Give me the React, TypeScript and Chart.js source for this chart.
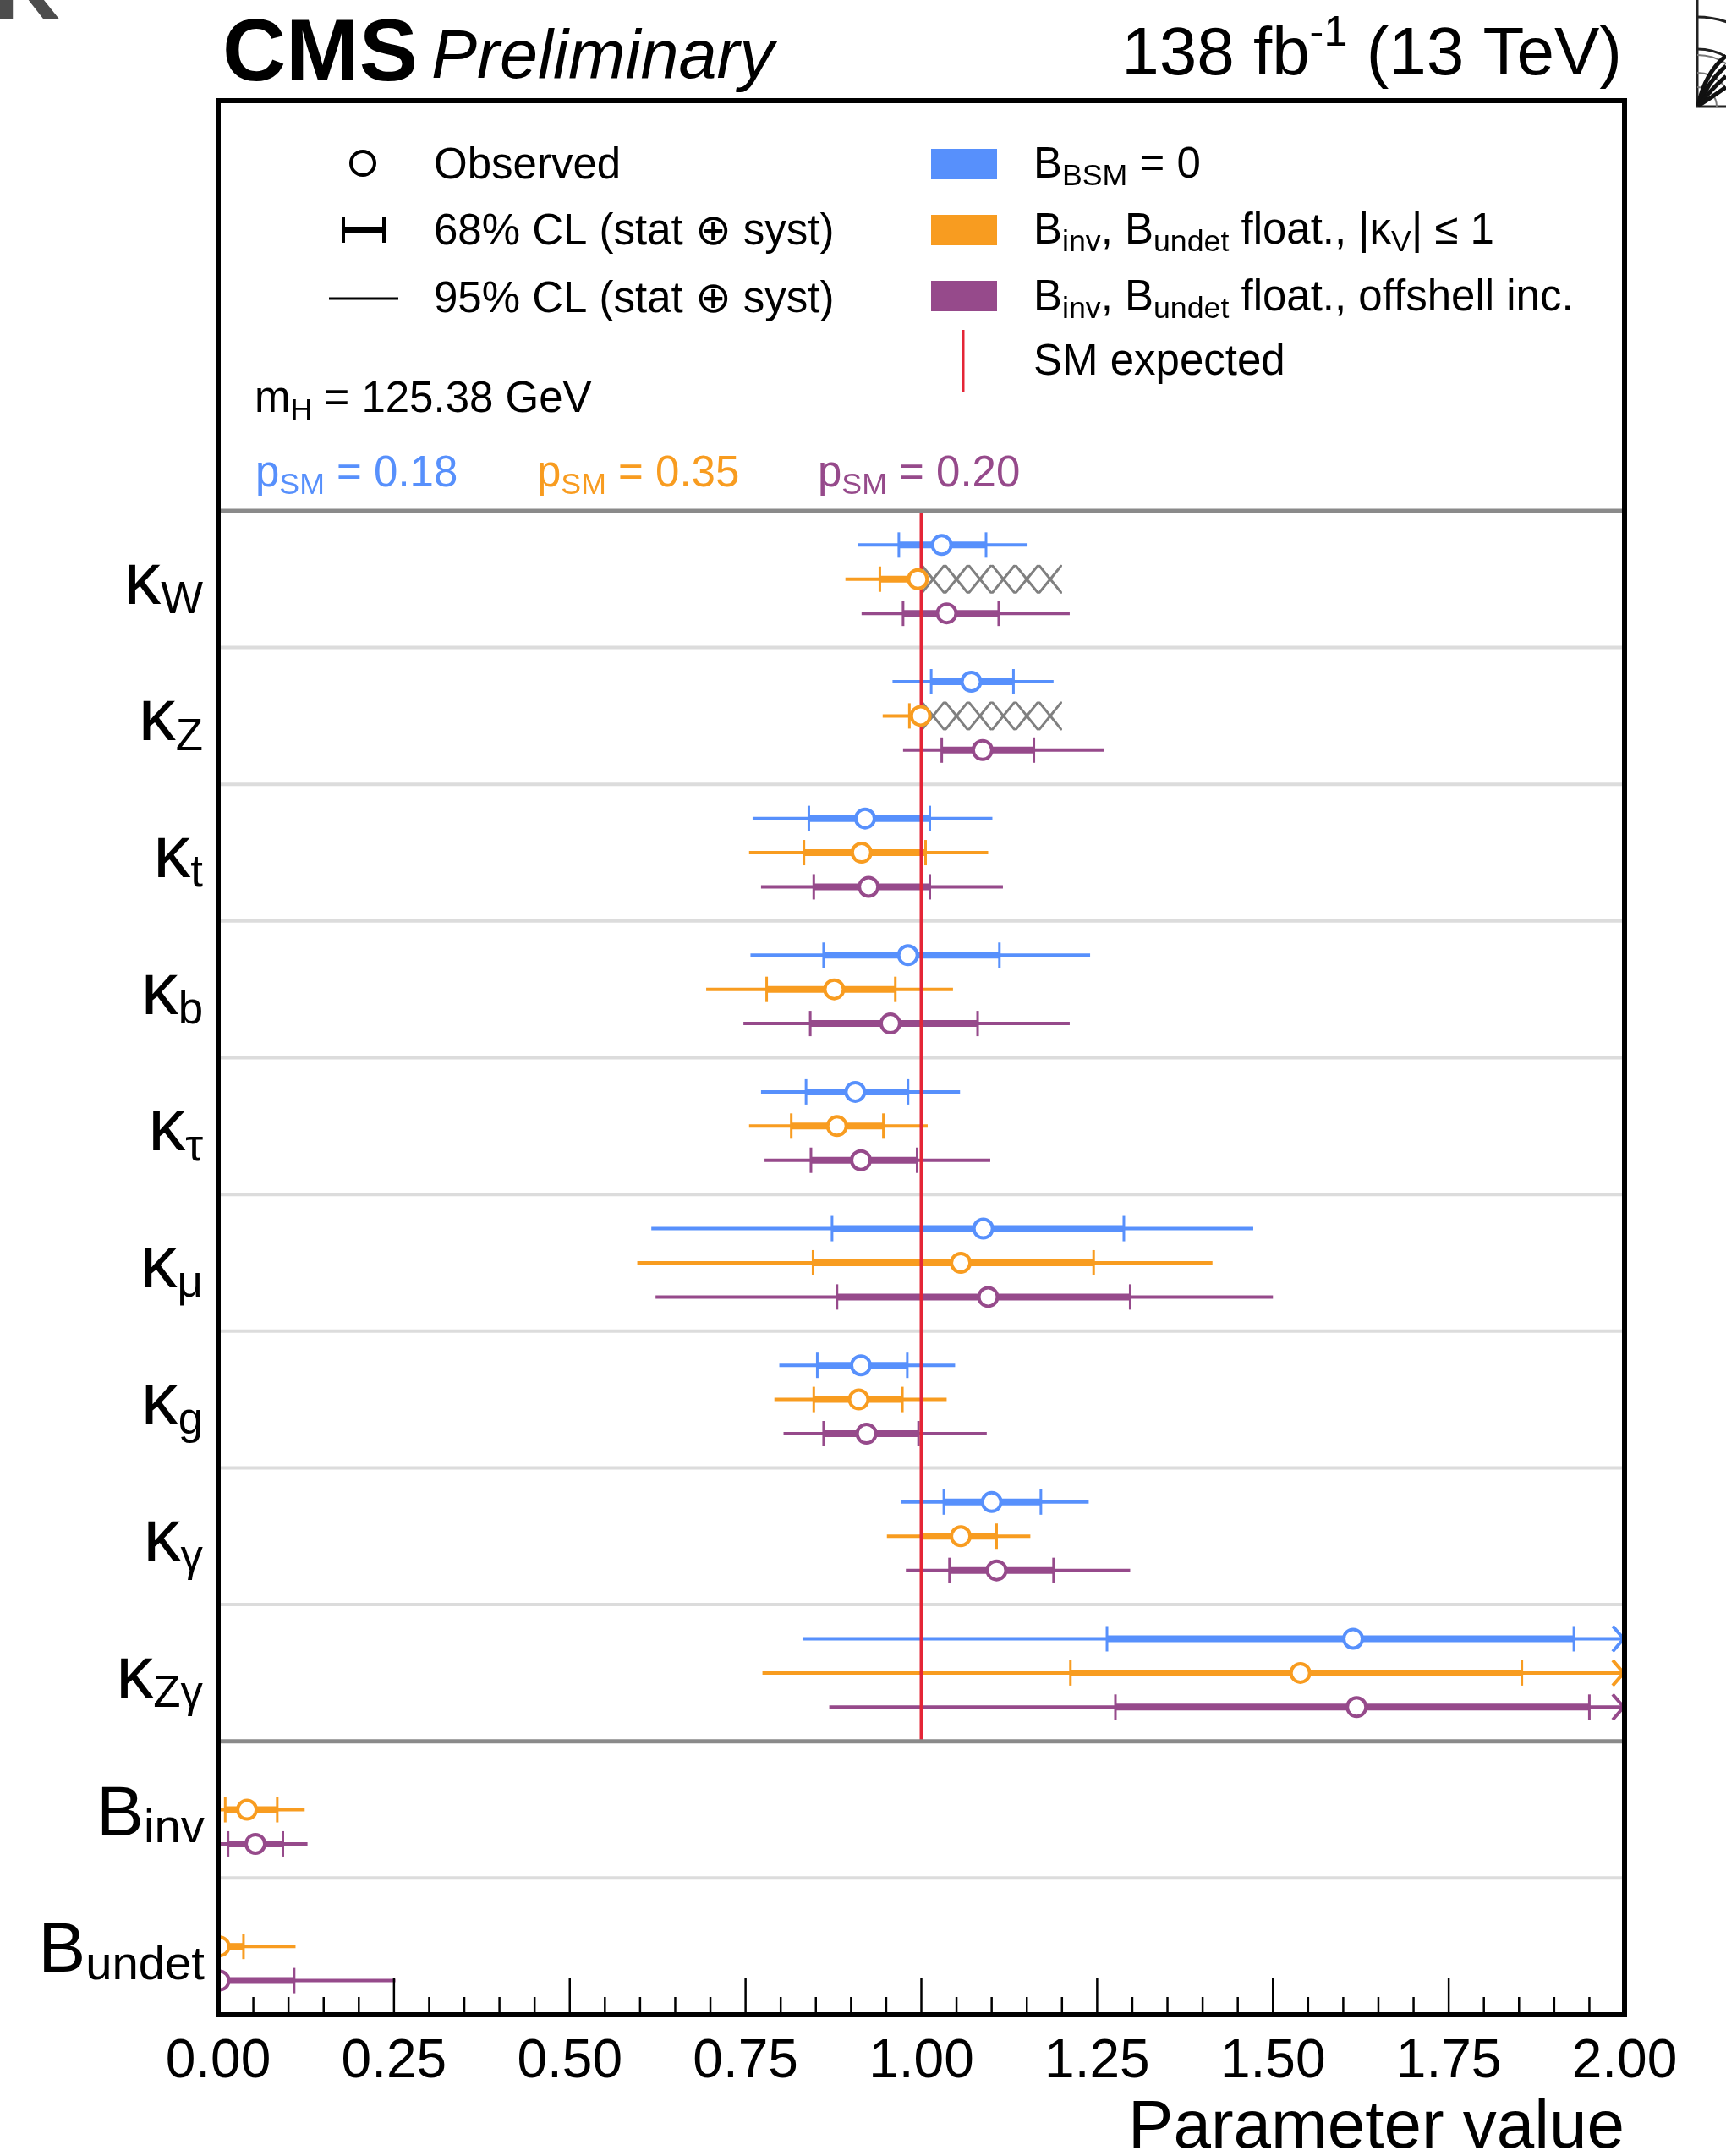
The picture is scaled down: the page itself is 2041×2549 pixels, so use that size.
import React, { useEffect, useRef } from 'react';
import { Chart, registerables } from 'chart.js';

Chart.register(...registerables);

const FONT = '"Liberation Sans", "DejaVu Sans", Arial, Helvetica, sans-serif';

// ---------------- data ----------------
// Parameters, top to bottom
const PARAM_SYMBOL = ['κ', 'κ', 'κ', 'κ', 'κ', 'κ', 'κ', 'κ', 'κ', 'B', 'B'];
const PARAM_SUB = ['W', 'Z', 't', 'b', 'τ', 'μ', 'g', 'γ', 'Zγ', 'inv', 'undet'];
const KAPPA_COUNT = 9;

const X_MIN = 0;
const X_MAX = 2;
const X_MAJOR_STEP = 0.25;
const X_MINOR_PER_MAJOR = 5;
const SM_EXPECTED = 1.0;

// Scenario 1: B_BSM = 0  (null = not fitted). Values above X_MAX extend beyond the axis (arrow)
const BSM0_OBS = [1.029, 1.071, 0.920, 0.981, 0.906, 1.088, 0.914, 1.100, 1.614, null, null];
const BSM0_LO68 = [0.968, 1.014, 0.840, 0.861, 0.836, 0.873, 0.852, 1.032, 1.264, null, null];
const BSM0_HI68 = [1.092, 1.131, 1.012, 1.111, 0.981, 1.288, 0.980, 1.170, 1.928, null, null];
const BSM0_LO95 = [0.910, 0.959, 0.760, 0.757, 0.772, 0.616, 0.798, 0.971, 0.831, null, null];
const BSM0_HI95 = [1.151, 1.188, 1.101, 1.240, 1.055, 1.472, 1.048, 1.238, 2.2, null, null];

// Scenario 2: B_inv, B_undet floating, |kV| <= 1
const KV1_OBS = [0.995, 0.999, 0.915, 0.876, 0.880, 1.056, 0.911, 1.056, 1.539, 0.041, 0.002];
const KV1_LO68 = [0.941, 0.983, 0.833, 0.780, 0.815, 0.846, 0.847, 1.001, 1.212, 0.010, 0.000];
const KV1_HI68 = [1.000, 1.000, 1.006, 0.963, 0.946, 1.245, 0.973, 1.107, 1.854, 0.084, 0.036];
const KV1_LO95 = [0.892, 0.945, 0.755, 0.694, 0.755, 0.596, 0.791, 0.951, 0.774, 0.000, 0.000];
const KV1_HI95 = [1.000, 1.000, 1.095, 1.045, 1.009, 1.414, 1.036, 1.155, 2.2, 0.123, 0.110];

// Scenario 3: B_inv, B_undet floating, offshell included
const OFF_OBS = [1.036, 1.087, 0.925, 0.956, 0.914, 1.095, 0.922, 1.107, 1.619, 0.053, 0.002];
const OFF_LO68 = [0.974, 1.029, 0.847, 0.842, 0.843, 0.880, 0.861, 1.040, 1.276, 0.014, 0.000];
const OFF_HI68 = [1.110, 1.160, 1.012, 1.080, 0.994, 1.297, 0.996, 1.188, 1.950, 0.092, 0.108];
const OFF_LO95 = [0.915, 0.974, 0.772, 0.747, 0.777, 0.622, 0.804, 0.978, 0.869, 0.000, 0.000];
const OFF_HI95 = [1.211, 1.260, 1.116, 1.211, 1.098, 1.500, 1.093, 1.297, 2.2, 0.127, 0.252];

// Excluded region (|kV| <= 1 constraint) shown hatched for scenario 2
const HATCH_ROWS = [0, 1];
const HATCH_RANGE = [1.0, 1.2];

const P_SM = ['0.18', '0.35', '0.20'];

const BLUE = '#5790fc';
const ORANGE = '#f89c20';
const PURPLE = '#964a8b';
const RED = '#e42536';

const SCENARIOS = [
  { color: BLUE, obs: BSM0_OBS, lo68: BSM0_LO68, hi68: BSM0_HI68, lo95: BSM0_LO95, hi95: BSM0_HI95 },
  { color: ORANGE, obs: KV1_OBS, lo68: KV1_LO68, hi68: KV1_HI68, lo95: KV1_LO95, hi95: KV1_HI95 },
  { color: PURPLE, obs: OFF_OBS, lo68: OFF_LO68, hi68: OFF_HI68, lo95: OFF_LO95, hi95: OFF_HI95 },
];
const ROW_OFFSETS = [-0.25, 0, 0.25];

// ---------------- helpers ----------------
type Part = { t: string; k?: 'sub' | 'sup'; style?: string };

function fontFor(p: Part, size: number, subScale: number, supScale: number) {
  const s = p.k === 'sub' ? size * subScale : p.k === 'sup' ? size * supScale : size;
  return `${p.style ? p.style + ' ' : ''}${s}px ${FONT}`;
}

function drawParts(
  ctx: CanvasRenderingContext2D,
  parts: Part[],
  x: number,
  y: number,
  size: number,
  color: string,
  align: 'left' | 'right' = 'left',
  subScale = 0.7,
  subDy = 0.17,
  supScale = 0.63,
  supDy = 0.42,
) {
  const widths = parts.map((p) => {
    ctx.font = fontFor(p, size, subScale, supScale);
    return ctx.measureText(p.t).width;
  });
  const total = widths.reduce((a, b) => a + b, 0);
  let cx = align === 'right' ? x - total : x;
  ctx.fillStyle = color;
  ctx.textAlign = 'left';
  ctx.textBaseline = 'alphabetic';
  parts.forEach((p, i) => {
    ctx.font = fontFor(p, size, subScale, supScale);
    const dy = p.k === 'sub' ? subDy * size : p.k === 'sup' ? -supDy * size : 0;
    ctx.fillText(p.t, cx, y + dy);
    cx += widths[i];
  });
}

function hline(ctx: CanvasRenderingContext2D, x0: number, x1: number, y: number) {
  ctx.beginPath();
  ctx.moveTo(x0, y);
  ctx.lineTo(x1, y);
  ctx.stroke();
}
function vline(ctx: CanvasRenderingContext2D, x: number, y0: number, y1: number) {
  ctx.beginPath();
  ctx.moveTo(x, y0);
  ctx.lineTo(x, y1);
  ctx.stroke();
}

const cmsPlugin = {
  id: 'cmsSummary',
  beforeDraw(chart: any) {
    const ctx = chart.ctx as CanvasRenderingContext2D;
    ctx.save();
    ctx.fillStyle = '#fff';
    ctx.fillRect(0, 0, chart.width, chart.height);
    ctx.restore();
  },
  beforeDatasetsDraw(chart: any) {
    const ctx = chart.ctx as CanvasRenderingContext2D;
    const ca = chart.chartArea;
    const xs = chart.scales.x;
    const ys = chart.scales.y;
    const xp = (v: number) => xs.getPixelForValue(Math.max(X_MIN, Math.min(X_MAX, v)));
    ctx.save();
    ctx.lineCap = 'butt';

    // light row separators
    ctx.strokeStyle = '#dcdcdc';
    ctx.lineWidth = 4;
    for (let b = 1; b < PARAM_SUB.length; b++) {
      if (b === KAPPA_COUNT) continue;
      hline(ctx, ca.left, ca.right, ys.getPixelForValue(b));
    }

    // hatched excluded region
    HATCH_ROWS.forEach((row) => {
      const yc = ys.getPixelForValue(row + 0.5 + ROW_OFFSETS[1]);
      const x0 = xs.getPixelForValue(HATCH_RANGE[0]);
      const x1 = xs.getPixelForValue(HATCH_RANGE[1]);
      const top = yc - 17;
      const bot = yc + 17;
      const n = 6;
      const w = (x1 - x0) / n;
      ctx.save();
      ctx.beginPath();
      ctx.rect(x0, top, x1 - x0, bot - top);
      ctx.clip();
      ctx.strokeStyle = '#808080';
      ctx.lineWidth = 3;
      for (let k = -1; k <= n; k++) {
        ctx.beginPath();
        ctx.moveTo(x0 + k * w, top);
        ctx.lineTo(x0 + (k + 1) * w, bot);
        ctx.moveTo(x0 + (k + 1) * w, top);
        ctx.lineTo(x0 + k * w, bot);
        ctx.stroke();
      }
      ctx.restore();
    });

    // error bars
    SCENARIOS.forEach((s, si) => {
      ctx.strokeStyle = s.color;
      s.obs.forEach((obs, i) => {
        if (obs == null) return;
        const yc = ys.getPixelForValue(i + 0.5 + ROW_OFFSETS[si]);
        const lo95 = s.lo95[i] as number;
        const hi95 = s.hi95[i] as number;
        const lo68 = s.lo68[i] as number;
        const hi68 = s.hi68[i] as number;
        // 95% thin line
        ctx.lineWidth = 4;
        hline(ctx, xp(lo95), xp(hi95), yc);
        if (hi95 > X_MAX) {
          const r = ca.right - 1;
          ctx.beginPath();
          ctx.moveTo(r - 13, yc - 15);
          ctx.lineTo(r, yc);
          ctx.lineTo(r - 13, yc + 15);
          ctx.stroke();
        }
        // 68% thick bar
        ctx.lineWidth = 8;
        hline(ctx, xp(lo68), xp(hi68), yc);
        // end ticks of 68%
        ctx.lineWidth = 3;
        if (lo68 !== lo95) vline(ctx, xp(lo68), yc - 15, yc + 15);
        if (hi68 !== hi95 && hi68 <= X_MAX) vline(ctx, xp(hi68), yc - 15, yc + 15);
      });
    });

    // SM expected line
    ctx.strokeStyle = RED;
    ctx.lineWidth = 4;
    const xsm = xs.getPixelForValue(SM_EXPECTED);
    vline(ctx, xsm, ys.getPixelForValue(0), ys.getPixelForValue(KAPPA_COUNT));
    ctx.restore();
  },
  afterDatasetsDraw(chart: any) {
    const ctx = chart.ctx as CanvasRenderingContext2D;
    const ca = chart.chartArea;
    const xs = chart.scales.x;
    const ys = chart.scales.y;
    ctx.save();

    // strong separators
    ctx.strokeStyle = '#8a8a8a';
    ctx.lineWidth = 5;
    hline(ctx, ca.left, ca.right, ys.getPixelForValue(0));
    hline(ctx, ca.left, ca.right, ys.getPixelForValue(KAPPA_COUNT));

    // axis ticks (inside)
    ctx.strokeStyle = '#000';
    ctx.lineWidth = 2.5;
    const nMinor = Math.round((X_MAX - X_MIN) / X_MAJOR_STEP) * X_MINOR_PER_MAJOR;
    for (let i = 0; i <= nMinor; i++) {
      const v = X_MIN + (i * X_MAJOR_STEP) / X_MINOR_PER_MAJOR;
      const px = xs.getPixelForValue(v);
      const len = i % X_MINOR_PER_MAJOR === 0 ? 43 : 21;
      vline(ctx, px, ca.bottom, ca.bottom - len);
    }

    // frame
    ctx.lineWidth = 6;
    ctx.strokeStyle = '#000';
    ctx.strokeRect(ca.left, ca.top, ca.right - ca.left, ca.bottom - ca.top);

    // parameter labels
    PARAM_SUB.forEach((sub, i) => {
      const yc = ys.getPixelForValue(i + 0.5);
      const isK = PARAM_SYMBOL[i] === 'κ';
      if (isK) {
        drawParts(ctx, [{ t: 'κ' }, { t: sub, k: 'sub' }], ca.left - 18, yc + 29, 88, '#000', 'right', 0.6, 0.13);
      } else {
        drawParts(ctx, [{ t: 'B' }, { t: sub, k: 'sub' }], ca.left - 16, yc + 30, 84, '#000', 'right', 0.67, 0.1);
      }
    });

    // ---- legend (left column)
    const LS = 51;
    ctx.strokeStyle = '#000';
    ctx.lineWidth = 4;
    ctx.beginPath();
    ctx.arc(429, 193, 14, 0, Math.PI * 2);
    ctx.stroke();
    drawParts(ctx, [{ t: 'Observed' }], 513, 211, LS, '#000');

    ctx.lineWidth = 8;
    hline(ctx, 405, 455, 272);
    ctx.lineWidth = 4;
    vline(ctx, 406, 257, 287);
    vline(ctx, 454, 257, 287);
    drawParts(ctx, [{ t: '68% CL (stat ⊕ syst)' }], 513, 289, LS, '#000');

    ctx.lineWidth = 3;
    hline(ctx, 389, 471, 353);
    drawParts(ctx, [{ t: '95% CL (stat ⊕ syst)' }], 513, 369, LS, '#000');

    drawParts(ctx, [{ t: 'm' }, { t: 'H', k: 'sub' }, { t: ' = 125.38 GeV' }], 301, 487, LS, '#000');

    const pX = [302, 635, 967];
    SCENARIOS.forEach((s, si) => {
      drawParts(ctx, [{ t: 'p' }, { t: 'SM', k: 'sub' }, { t: ' = ' + P_SM[si] }], pX[si], 575, LS, s.color);
    });

    // ---- legend (right column)
    const boxY = [176, 254, 332];
    SCENARIOS.forEach((s, si) => {
      ctx.fillStyle = s.color;
      ctx.fillRect(1101, boxY[si], 78, 36);
    });
    drawParts(ctx, [{ t: 'B' }, { t: 'BSM', k: 'sub' }, { t: ' = 0' }], 1222, 210, LS, '#000');
    drawParts(
      ctx,
      [{ t: 'B' }, { t: 'inv', k: 'sub' }, { t: ', B' }, { t: 'undet', k: 'sub' }, { t: ' float., |κ' }, { t: 'V', k: 'sub' }, { t: '| ≤ 1' }],
      1222, 288, LS, '#000',
    );
    drawParts(
      ctx,
      [{ t: 'B' }, { t: 'inv', k: 'sub' }, { t: ', B' }, { t: 'undet', k: 'sub' }, { t: ' float., offshell inc.' }],
      1222, 367, LS, '#000',
    );
    ctx.strokeStyle = RED;
    ctx.lineWidth = 3;
    vline(ctx, 1139, 390, 463);
    drawParts(ctx, [{ t: 'SM expected' }], 1222, 443, LS, '#000');

    // ---- header
    drawParts(ctx, [{ t: 'CMS', style: 'bold' }], 263, 95, 104, '#000');
    drawParts(ctx, [{ t: 'Preliminary', style: 'italic' }], 510, 92, 81, '#000');
    drawParts(ctx, [{ t: '138 fb' }, { t: '-1', k: 'sup' }, { t: ' (13 TeV)' }], 1918, 88, 80, '#000', 'right');

    // ---- cropped neighbour fragments at the page edges
    ctx.fillStyle = '#4d4d4d';
    ctx.font = `bold 110px ${FONT}`;
    ctx.textAlign = 'left';
    ctx.textBaseline = 'alphabetic';
    ctx.fillText('K', -8, 23);

    ctx.strokeStyle = '#222';
    ctx.lineWidth = 3;
    ctx.beginPath();
    ctx.moveTo(2007, 0);
    ctx.lineTo(2007, 126);
    ctx.lineTo(2041, 126);
    ctx.stroke();
    [106, 68].forEach((r) => {
      ctx.beginPath();
      ctx.arc(2007, 126, r, -Math.PI / 2, 0);
      ctx.stroke();
    });
    ctx.strokeStyle = '#777';
    ctx.lineWidth = 2;
    [61, 40, 23].forEach((r) => {
      ctx.beginPath();
      ctx.arc(2007, 126, r, -Math.PI / 2, 0);
      ctx.stroke();
    });
    ctx.strokeStyle = '#111';
    ctx.lineWidth = 5;
    [
      [2041, 66, 2016, 86],
      [2041, 78, 2020, 96],
      [2041, 90, 2023, 106],
      [2041, 103, 2026, 114],
    ].forEach(([ex, ey, cx, cy]) => {
      ctx.beginPath();
      ctx.moveTo(2008, 125);
      ctx.quadraticCurveTo(cx, cy, ex, ey);
      ctx.stroke();
    });

    ctx.restore();
  },
};

export default function App() {
  const ref = useRef<HTMLCanvasElement>(null);
  useEffect(() => {
    const canvas = ref.current;
    if (!canvas) return;
    const chart = new Chart(canvas, {
      type: 'scatter',
      data: {
        datasets: SCENARIOS.map((s, si) => ({
          label: 'scenario ' + si,
          data: s.obs
            .map((v, i) => (v == null ? null : { x: v, y: i + 0.5 + ROW_OFFSETS[si] }))
            .filter((d) => d !== null) as { x: number; y: number }[],
          pointRadius: 11,
          pointHoverRadius: 11,
          pointBorderWidth: 4,
          pointBackgroundColor: '#ffffff',
          pointBorderColor: s.color,
          showLine: false,
          clip: 0,
        })),
      },
      options: {
        responsive: false,
        maintainAspectRatio: false,
        animation: false,
        devicePixelRatio: 1,
        events: [],
        layout: { padding: { left: 258, right: 120, top: 119, bottom: 0 } },
        plugins: { legend: { display: false }, tooltip: { enabled: false }, title: { display: false } },
        scales: {
          x: {
            type: 'linear',
            position: 'bottom',
            min: X_MIN,
            max: X_MAX,
            ticks: {
              stepSize: X_MAJOR_STEP,
              callback: (v: any) => Number(v).toFixed(2),
              font: { family: FONT, size: 64 },
              color: '#000',
              padding: 18,
              maxRotation: 0,
              autoSkip: false,
            },
            grid: { display: false, drawTicks: false },
            border: { display: false },
            title: {
              display: true,
              text: 'Parameter value',
              align: 'end',
              color: '#000',
              font: { family: FONT, size: 80, lineHeight: 0.8 },
              padding: 0,
            },
            afterFit: (s: any) => {
              s.height = 167;
            },
          },
          y: { type: 'linear', min: -3, max: 11, reverse: true, display: false },
        },
      },
      plugins: [cmsPlugin],
    } as any);
    return () => chart.destroy();
  }, []);
  return (
    <canvas
      ref={ref}
      width={2041}
      height={2549}
      style={{ position: 'absolute', left: 0, top: 0, display: 'block' }}
    />
  );
}
